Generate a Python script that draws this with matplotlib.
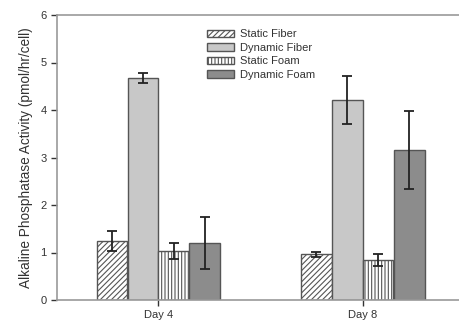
import numpy as np
import matplotlib
matplotlib.use('Agg')
from matplotlib import pyplot as plt

## DATA

days = ['Day 4', 'Day 8']
series = ['Static Fiber', 'Dynamic Fiber', 'Static Foam', 'Dynamic Foam']
static_fiber = [1.24, 0.96]
static_fiber_err = [0.21, 0.05]
dynamic_fiber = [4.67, 4.21]
dynamic_fiber_err = [0.11, 0.50]
static_foam = [1.03, 0.84]
static_foam_err = [0.17, 0.13]
dynamic_foam = [1.20, 3.16]
dynamic_foam_err = [0.55, 0.82]

## PLOT

plt.rcParams['font.family'] = ['Liberation Sans', 'DejaVu Sans']
plt.rcParams['hatch.linewidth'] = 0.8

fig = plt.figure(figsize=(4.59, 3.24), dpi=100)
ax = fig.add_axes([57/459, 24/324, 402/459, 285/324])

x = np.arange(1, len(days) + 1)
w = 0.151
offsets = [-0.227, -0.075, 0.075, 0.227]
values = [static_fiber, dynamic_fiber, static_foam, dynamic_foam]
errors = [static_fiber_err, dynamic_fiber_err, static_foam_err, dynamic_foam_err]
faces = ['white', '#c8c8c8', 'white', '#8c8c8c']
hatches = ['//////', None, '|||||', None]

for i in range(len(series)):
    ax.bar(x + offsets[i], values[i], w, color=faces[i], edgecolor='#555555',
           hatch=hatches[i], linewidth=1.0, label=series[i], zorder=2)
    ax.errorbar(x + offsets[i], values[i], yerr=errors[i], fmt='none',
                ecolor='#222222', elinewidth=1.3, capsize=3.5, capthick=1.3, zorder=3)

ax.set_xlim(0.504, 2.471)
ax.set_ylim(0, 6)
ax.set_xticks(x)
ax.set_xticklabels(days)
ax.set_yticks(range(0, 7))
ax.tick_params(labelsize=8, colors='#333333', direction='out', length=4, width=1)
for s in ['left', 'bottom', 'top']:
    ax.spines[s].set_color('#999999')
    ax.spines[s].set_linewidth(1.2)
ax.spines['right'].set_visible(False)
ax.set_ylabel('Alkaline Phosphatase Activity (pmol/hr/cell)', fontsize=9.8, color='#333333', labelpad=5)

ax.legend(loc='upper left', bbox_to_anchor=(0.349, 0.985), frameon=False, fontsize=8,
          handlelength=2.4, handleheight=0.65, labelspacing=0.32, handletextpad=0.5,
          borderpad=0.4, labelcolor='#333333')

fig.savefig('out.png', dpi=100)
